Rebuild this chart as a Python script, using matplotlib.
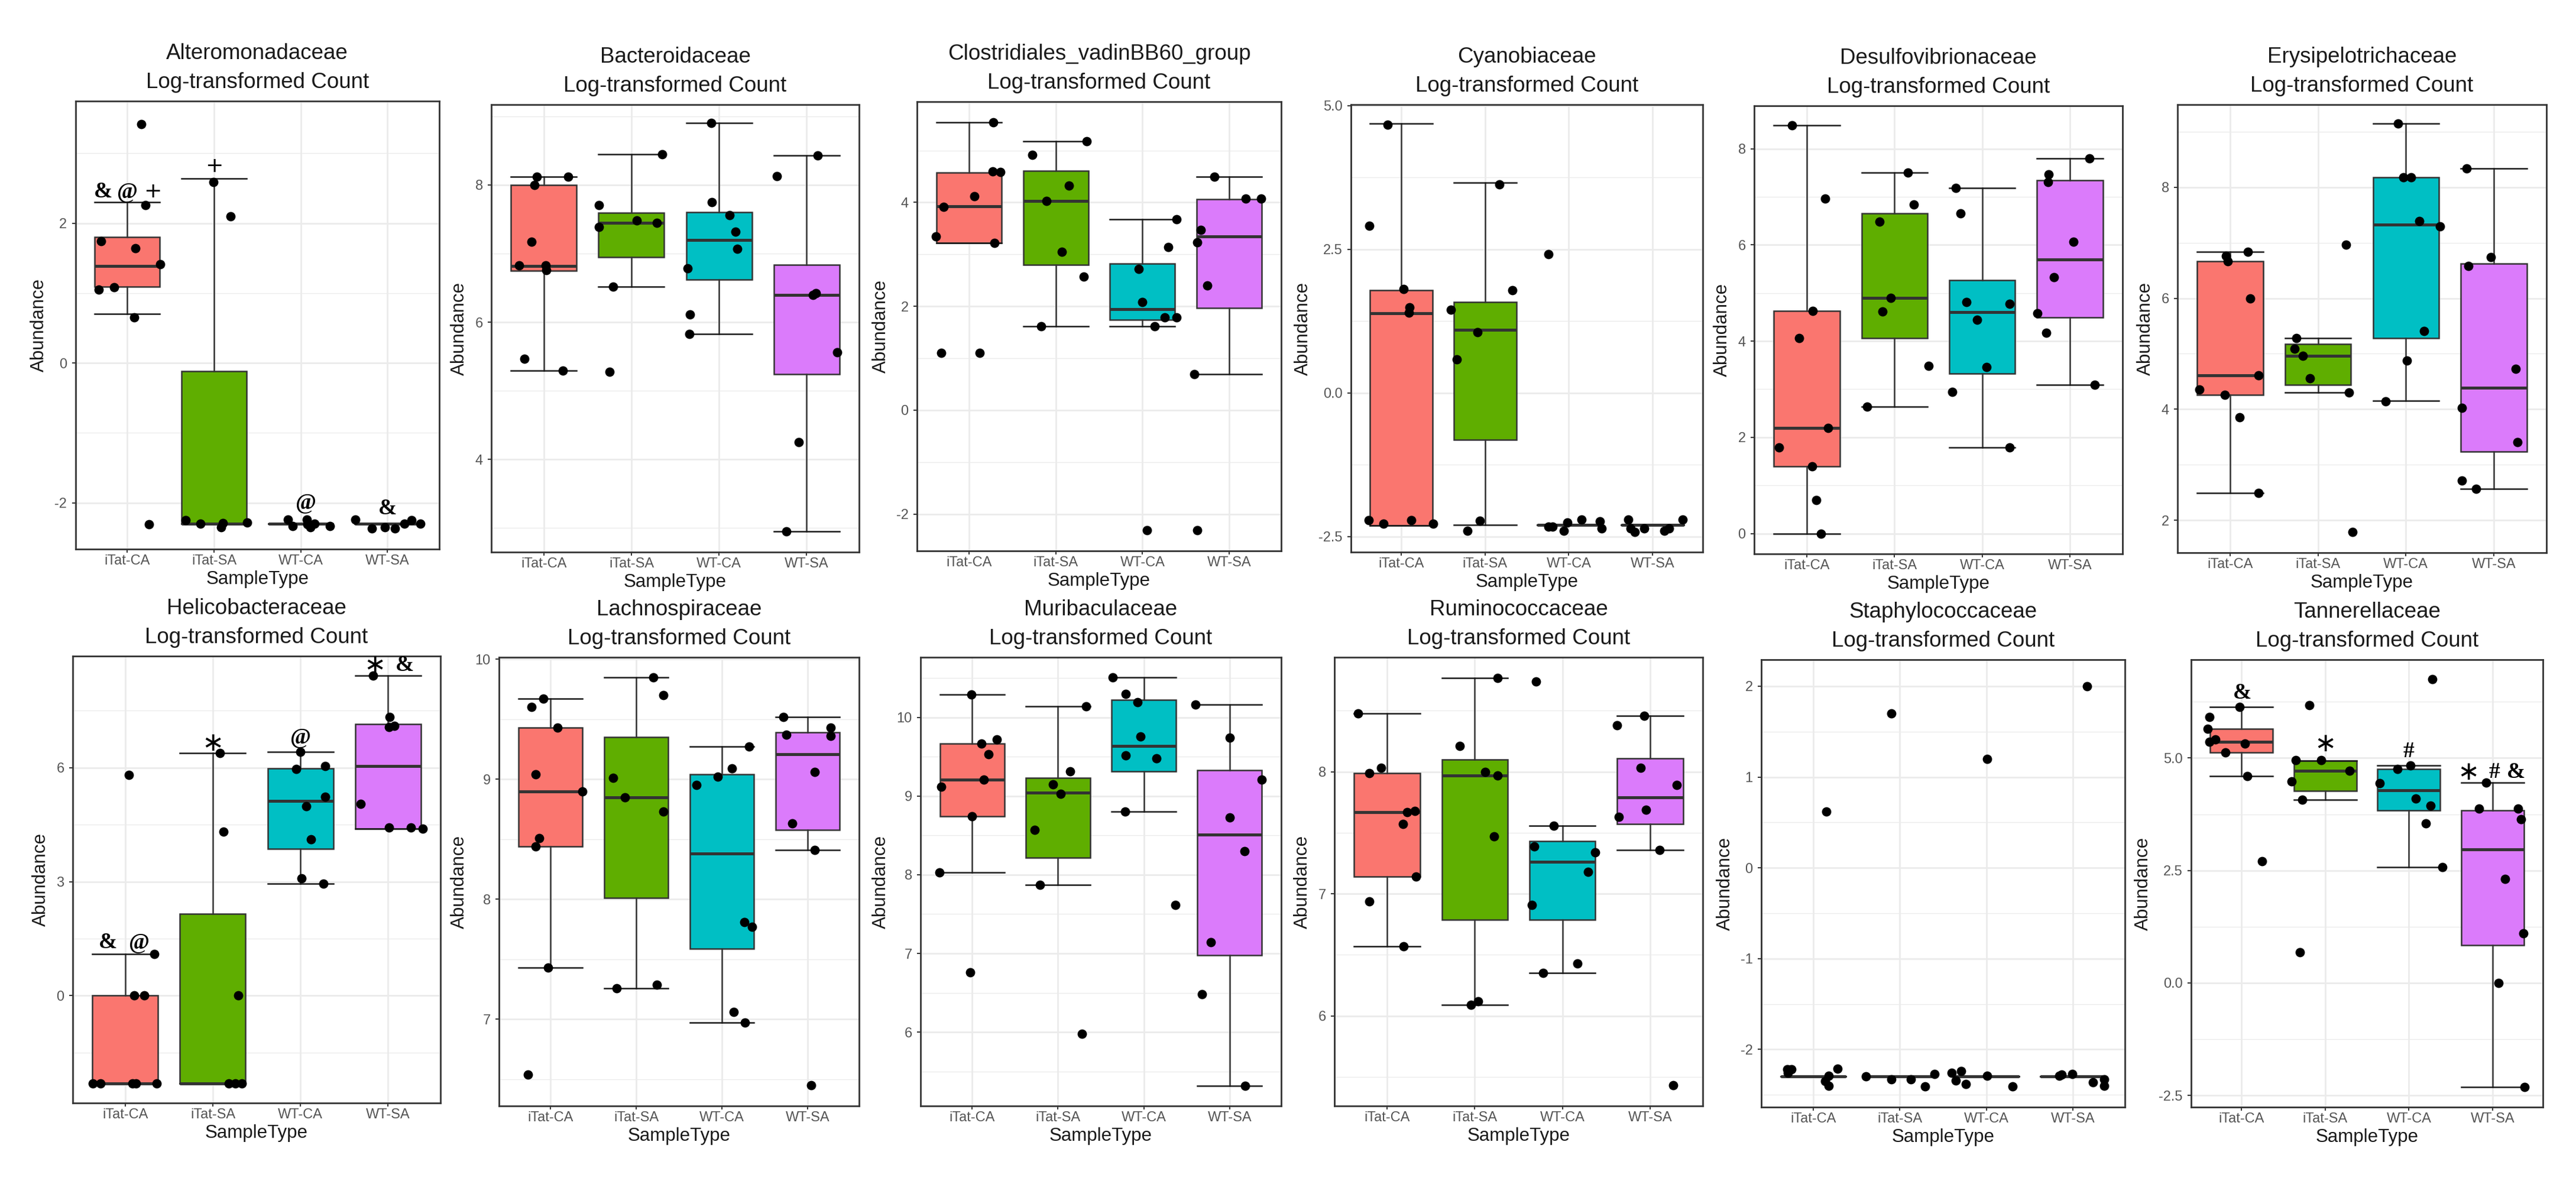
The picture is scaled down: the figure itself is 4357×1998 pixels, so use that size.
import matplotlib
matplotlib.use("Agg")
import matplotlib.pyplot as plt

plt.rcParams["font.family"] = ["Liberation Sans", "DejaVu Sans"]
plt.rcParams["axes.unicode_minus"] = False

# ---------------------------------------------------------------- data
groups = ["iTat-CA", "iTat-SA", "WT-CA", "WT-SA"]
fills = ["#FA766F", "#5FAE00", "#00BFC4", "#DB7BFB"]

# Alteromonadaceae
alteromonadaceae_q1 = [1.09, -2.30, -2.30, -2.30]
alteromonadaceae_med = [1.39, -2.30, -2.30, -2.30]
alteromonadaceae_q3 = [1.80, -0.12, -2.30, -2.30]
alteromonadaceae_lo = [0.70, -2.30, -2.30, -2.30]
alteromonadaceae_hi = [2.30, 2.64, -2.30, -2.30]
alteromonadaceae_vals = [[3.42, 2.26, 1.74, 1.64, 1.41, 1.05, 1.08, 0.65, -2.31],
                         [-2.25, -2.30, -2.35, -2.29, -2.28, 2.59, 2.10],
                         [-2.24, -2.33, -2.24, -2.31, -2.35, -2.30, -2.33],
                         [-2.24, -2.37, -2.35, -2.37, -2.30, -2.25, -2.30]]
alteromonadaceae_jitter = [[0.16, 0.21, -0.30, 0.09, 0.38, -0.33, -0.15, 0.08, 0.25],
                           [-0.33, -0.155, 0.08, 0.10, 0.38, -0.01, 0.19],
                           [-0.15, -0.09, 0.07, 0.08, 0.11, 0.16, 0.34],
                           [-0.37, -0.18, -0.03, 0.09, 0.20, 0.28, 0.38]]
alteromonadaceae_marks = [(0, "&", 2.45, -0.28), (0, "@", 2.45, 0.0), (0, "+", 2.45, 0.29),
                          (1, "+", 2.82, 0.0), (2, "@", -2.00, 0.06), (3, "&", -2.08, 0.0)]

# Bacteroidaceae
bacteroidaceae_q1 = [6.75, 6.95, 6.62, 5.24]
bacteroidaceae_med = [6.82, 7.45, 7.20, 6.40]
bacteroidaceae_q3 = [8.00, 7.59, 7.60, 6.84]
bacteroidaceae_lo = [5.29, 6.52, 5.83, 2.95]
bacteroidaceae_hi = [8.12, 8.45, 8.90, 8.43]
bacteroidaceae_vals = [[8.12, 8.12, 8.00, 7.17, 6.83, 6.83, 6.76, 5.47, 5.29],
                       [8.45, 7.71, 7.39, 7.48, 7.45, 6.52, 5.28],
                       [8.90, 7.75, 7.56, 7.32, 7.07, 6.78, 6.11, 5.83],
                       [8.43, 8.13, 6.40, 6.42, 5.56, 4.25, 2.95]]
bacteroidaceae_jitter = [[-0.08, 0.28, -0.11, -0.14, -0.28, 0.02, 0.03, -0.22, 0.22],
                         [0.35, -0.37, -0.37, 0.06, 0.29, -0.21, -0.25],
                         [-0.09, -0.08, 0.12, 0.19, 0.21, -0.36, -0.33, -0.34],
                         [0.13, -0.34, 0.07, 0.11, 0.35, -0.09, -0.23]]
bacteroidaceae_marks = []

# Clostridiales_vadinBB60_group
clostridiales_q1 = [3.22, 2.80, 1.74, 1.97]
clostridiales_med = [3.92, 4.03, 1.95, 3.35]
clostridiales_q3 = [4.57, 4.61, 2.82, 4.06]
clostridiales_lo = [3.22, 1.61, 1.61, 0.69]
clostridiales_hi = [5.54, 5.18, 3.67, 4.49]
clostridiales_vals = [[5.54, 4.60, 4.58, 4.12, 3.91, 3.34, 3.22, 1.10, 1.10],
                      [5.18, 4.91, 4.32, 4.03, 3.05, 2.57, 1.61],
                      [3.67, 3.14, 2.72, 2.08, 1.79, 1.79, 1.61, -2.31],
                      [4.49, 4.07, 4.07, 3.47, 3.23, 2.40, 0.69, -2.31]]
clostridiales_jitter = [[0.28, 0.27, 0.36, 0.06, -0.29, -0.38, 0.29, -0.32, 0.12],
                        [0.36, -0.27, 0.15, -0.11, 0.07, 0.32, -0.17],
                        [0.39, 0.30, -0.04, 0.00, 0.26, 0.39, 0.14, 0.05],
                        [-0.17, 0.19, 0.37, -0.33, -0.37, -0.25, -0.40, -0.37]]
clostridiales_marks = []

# Cyanobiaceae
cyanobiaceae_q1 = [-2.31, -0.81, -2.30, -2.30]
cyanobiaceae_med = [1.39, 1.10, -2.30, -2.30]
cyanobiaceae_q3 = [1.79, 1.58, -2.30, -2.30]
cyanobiaceae_lo = [-2.31, -2.30, -2.30, -2.30]
cyanobiaceae_hi = [4.69, 3.66, -2.30, -2.30]
cyanobiaceae_vals = [[4.67, 2.91, 1.81, 1.49, 1.40, -2.21, -2.28, -2.21, -2.28],
                     [3.63, 1.79, 1.45, 1.06, 0.58, -2.22, -2.40],
                     [2.42, -2.33, -2.33, -2.26, -2.40, -2.20, -2.24, -2.36],
                     [-2.20, -2.36, -2.42, -2.36, -2.40, -2.36, -2.20]]
cyanobiaceae_jitter = [[-0.16, -0.38, 0.03, 0.10, 0.09, -0.39, -0.21, 0.12, 0.38],
                       [0.17, 0.33, -0.41, -0.09, -0.34, -0.06, -0.21],
                       [-0.24, -0.24, -0.19, -0.02, -0.06, 0.15, 0.37, 0.39],
                       [-0.29, -0.26, -0.21, -0.10, 0.14, 0.20, 0.36]]
cyanobiaceae_marks = []

# Desulfovibrionaceae
desulfo_q1 = [1.39, 4.06, 3.33, 4.49]
desulfo_med = [2.20, 4.90, 4.60, 5.70]
desulfo_q3 = [4.63, 6.66, 5.27, 7.34]
desulfo_lo = [0.0, 2.64, 1.79, 3.09]
desulfo_hi = [8.49, 7.50, 7.19, 7.80]
desulfo_vals = [[8.49, 6.97, 4.63, 4.06, 2.20, 1.79, 1.39, 0.69, 0.0],
                [7.50, 6.84, 6.48, 4.90, 4.62, 3.49, 2.64],
                [7.19, 6.66, 4.81, 4.77, 4.45, 3.46, 2.94, 1.79],
                [7.80, 7.47, 7.31, 6.07, 5.33, 4.58, 4.17, 3.09]]
desulfo_jitter = [[-0.17, 0.21, 0.07, -0.09, 0.24, -0.32, 0.06, 0.11, 0.16],
                  [0.15, 0.22, -0.17, -0.04, -0.14, 0.39, -0.31],
                  [-0.30, -0.25, -0.18, 0.31, -0.06, 0.05, -0.34, 0.31],
                  [0.22, -0.24, -0.25, 0.04, -0.18, -0.37, -0.27, 0.28]]
desulfo_marks = []

# Erysipelotrichaceae
erysi_q1 = [4.26, 4.44, 5.28, 3.24]
erysi_med = [4.61, 4.96, 7.33, 4.39]
erysi_q3 = [6.67, 5.17, 8.18, 6.62]
erysi_lo = [2.49, 4.30, 4.15, 2.57]
erysi_hi = [6.84, 5.28, 9.15, 8.34]
erysi_vals = [[6.84, 6.76, 6.67, 6.00, 4.61, 4.36, 4.26, 3.85, 2.49],
              [6.96, 5.28, 5.09, 4.96, 4.56, 4.30, 1.79],
              [9.15, 8.18, 8.18, 7.39, 7.29, 5.41, 4.88, 4.14],
              [8.34, 6.74, 6.58, 4.73, 4.03, 3.41, 2.71, 2.57]]
erysi_jitter = [[0.20, -0.05, -0.03, 0.23, 0.32, -0.35, -0.06, 0.11, 0.32],
                [0.32, -0.25, -0.27, -0.17, -0.09, 0.35, 0.39],
                [-0.09, -0.03, 0.06, 0.15, 0.39, 0.21, 0.01, -0.23],
                [-0.31, -0.03, -0.29, 0.25, -0.36, 0.27, -0.36, -0.20]]
erysi_marks = []

# Helicobacteraceae
helico_q1 = [-2.31, -2.31, 3.87, 4.39]
helico_med = [-2.31, -2.31, 5.12, 6.05]
helico_q3 = [0.0, 2.15, 5.98, 7.15]
helico_lo = [-2.31, -2.31, 2.94, 4.39]
helico_hi = [1.10, 6.39, 6.42, 8.42]
helico_vals = [[5.81, 1.10, 0.0, 0.0, -2.31, -2.31, -2.31, -2.31, -2.31],
               [6.39, 4.32, 0.0, -2.31, -2.31, -2.31],
               [6.42, 5.97, 6.05, 5.23, 4.99, 4.11, 3.09, 2.94],
               [8.42, 7.34, 7.07, 7.10, 5.05, 4.43, 4.43, 4.39]]
helico_jitter = [[0.04, 0.33, 0.10, 0.22, -0.37, -0.28, 0.08, 0.12, 0.36],
                 [0.08, 0.12, 0.29, 0.18, 0.26, 0.33],
                 [0.0, -0.05, 0.28, 0.28, 0.07, 0.12, 0.01, 0.26],
                 [-0.17, 0.02, 0.01, 0.07, -0.31, 0.01, 0.26, 0.40]]
helico_marks = [(0, "&", 1.40, -0.20), (0, "@", 1.40, 0.16), (1, "*", 6.65, 0.0),
                (2, "@", 6.80, 0.0), (3, "*", 8.70, -0.15), (3, "&", 8.70, 0.19)]

# Lachnospiraceae
lachno_q1 = [8.44, 8.01, 7.59, 8.58]
lachno_med = [8.90, 8.85, 8.38, 9.21]
lachno_q3 = [9.43, 9.35, 9.04, 9.39]
lachno_lo = [7.43, 7.26, 6.97, 8.41]
lachno_hi = [9.67, 9.85, 9.27, 9.52]
lachno_vals = [[9.67, 9.60, 9.43, 9.04, 8.90, 8.51, 8.44, 7.43, 6.54],
               [9.85, 9.70, 9.01, 8.85, 8.73, 7.29, 7.26],
               [9.27, 9.09, 9.02, 8.95, 7.81, 7.77, 7.06, 6.97],
               [9.52, 9.43, 9.37, 9.36, 9.06, 8.63, 8.41, 6.45]]
lachno_jitter = [[-0.08, -0.22, 0.08, -0.17, 0.37, -0.13, -0.17, -0.03, -0.26],
                 [0.20, 0.32, -0.27, -0.13, 0.32, 0.24, -0.23],
                 [0.32, 0.12, -0.05, -0.30, 0.26, 0.35, 0.14, 0.27],
                 [-0.28, 0.27, -0.25, 0.27, 0.08, -0.18, 0.08, 0.04]]
lachno_marks = []

# Muribaculaceae
muri_q1 = [8.74, 8.22, 9.31, 6.98]
muri_med = [9.21, 9.04, 9.64, 8.51]
muri_q3 = [9.67, 9.23, 10.22, 9.33]
muri_lo = [8.03, 7.87, 8.80, 5.32]
muri_hi = [10.29, 10.14, 10.51, 10.16]
muri_vals = [[10.29, 9.67, 9.72, 9.53, 9.21, 9.12, 8.74, 8.03, 6.76],
             [10.14, 9.31, 9.15, 9.03, 8.57, 7.87, 5.98],
             [10.51, 10.30, 10.19, 9.76, 9.52, 9.48, 8.80, 7.62],
             [10.16, 9.74, 9.21, 8.73, 8.30, 7.14, 6.48, 5.32]]
muri_jitter = [[-0.01, 0.11, 0.29, 0.19, 0.14, -0.36, 0.0, -0.38, -0.02],
               [0.33, 0.14, -0.06, 0.03, -0.27, -0.21, 0.28],
               [-0.36, -0.21, -0.07, -0.04, -0.21, 0.15, -0.22, 0.37],
               [-0.40, 0.0, 0.37, 0.0, 0.17, -0.22, -0.32, 0.18]]
muri_marks = []

# Ruminococcaceae
rumino_q1 = [7.14, 6.79, 6.79, 7.57]
rumino_med = [7.67, 7.97, 7.26, 7.79]
rumino_q3 = [7.99, 8.10, 7.43, 8.11]
rumino_lo = [6.57, 6.09, 6.35, 7.36]
rumino_hi = [8.48, 8.77, 7.56, 8.46]
rumino_vals = [[8.48, 8.03, 7.99, 7.67, 7.68, 7.57, 7.14, 6.94, 6.57],
               [8.77, 8.21, 8.00, 7.97, 7.47, 6.12, 6.09],
               [8.74, 7.56, 7.39, 7.34, 7.18, 6.91, 6.43, 6.35],
               [8.46, 8.38, 8.03, 7.89, 7.69, 7.63, 7.36, 5.43]]
rumino_jitter = [[-0.33, -0.07, -0.20, 0.23, 0.32, 0.18, 0.33, -0.20, 0.19],
                 [0.26, -0.17, 0.12, 0.26, 0.22, 0.04, -0.04],
                 [-0.30, -0.10, -0.32, 0.37, 0.29, -0.35, 0.17, -0.22],
                 [-0.07, -0.38, -0.11, 0.30, -0.05, -0.36, 0.11, 0.26]]
rumino_marks = []

# Staphylococcaceae
staph_q1 = [-2.30, -2.30, -2.30, -2.30]
staph_med = [-2.30, -2.30, -2.30, -2.30]
staph_q3 = [-2.30, -2.30, -2.30, -2.30]
staph_lo = [-2.30, -2.30, -2.30, -2.30]
staph_hi = [-2.30, -2.30, -2.30, -2.30]
staph_vals = [[0.62, -2.22, -2.22, -2.26, -2.21, -2.29, -2.35, -2.40],
              [1.70, -2.30, -2.33, -2.33, -2.41, -2.27],
              [1.20, -2.26, -2.24, -2.34, -2.38, -2.29, -2.41],
              [2.00, -2.29, -2.28, -2.27, -2.36, -2.33, -2.40]]
staph_jitter = [[0.15, -0.30, -0.25, -0.29, 0.28, 0.18, 0.14, 0.18],
                [-0.10, -0.39, -0.10, 0.13, 0.29, 0.40],
                [0.01, -0.40, -0.29, -0.35, -0.24, 0.01, 0.30],
                [0.16, -0.16, -0.13, -0.01, 0.23, 0.36, 0.36]]
staph_marks = []

# Tannerellaceae
tanner_q1 = [5.13, 4.27, 3.83, 0.84]
tanner_med = [5.36, 4.72, 4.28, 2.97]
tanner_q3 = [5.65, 4.94, 4.76, 3.84]
tanner_lo = [4.60, 4.07, 2.57, -2.31]
tanner_hi = [6.14, 4.94, 4.84, 4.46]
tanner_vals = [[6.14, 5.91, 5.65, 5.36, 5.42, 5.32, 5.13, 4.60, 2.70],
               [6.18, 4.95, 4.95, 4.72, 4.48, 4.07, 0.68],
               [6.76, 4.84, 4.75, 4.44, 4.10, 3.94, 3.55, 2.57],
               [4.46, 3.87, 3.87, 3.64, 2.31, 1.10, 0.0, -2.31]]
tanner_jitter = [[-0.02, -0.38, -0.40, -0.38, -0.31, 0.04, -0.19, 0.07, 0.25],
                 [-0.19, -0.35, -0.05, 0.29, -0.40, -0.27, -0.30],
                 [0.28, 0.02, -0.14, -0.35, 0.08, 0.26, 0.20, 0.40],
                 [-0.08, -0.16, 0.30, 0.34, 0.15, 0.37, 0.07, 0.38]]
tanner_marks = [(0, "&", 6.44, 0.01), (1, "*", 5.31, 0.0), (2, "#", 5.15, 0.0),
                (3, "*", 4.69, -0.29), (3, "#", 4.69, 0.02), (3, "&", 4.69, 0.28)]

# ---------------------------------------------------------------- panels
# (title, stats..., axis pixel box (left, right, top, bottom), ylim, major ticks, minor ticks, decimals)
panels = [
    ("Alteromonadaceae", alteromonadaceae_q1, alteromonadaceae_med, alteromonadaceae_q3,
     alteromonadaceae_lo, alteromonadaceae_hi, alteromonadaceae_vals, alteromonadaceae_jitter,
     alteromonadaceae_marks, (127.5, 743, 171, 929), (-2.663, 3.747), [-2, 0, 2], [-1, 1, 3], 0),
    ("Bacteroidaceae", bacteroidaceae_q1, bacteroidaceae_med, bacteroidaceae_q3,
     bacteroidaceae_lo, bacteroidaceae_hi, bacteroidaceae_vals, bacteroidaceae_jitter,
     bacteroidaceae_marks, (831, 1453, 177, 934), (2.65, 9.17), [4, 6, 8], [3, 5, 7, 9], 0),
    ("Clostridiales_vadinBB60_group", clostridiales_q1, clostridiales_med, clostridiales_q3,
     clostridiales_lo, clostridiales_hi, clostridiales_vals, clostridiales_jitter,
     clostridiales_marks, (1551, 2167, 172, 932), (-2.71, 5.94), [-2, 0, 2, 4], [-1, 1, 3, 5], 0),
    ("Cyanobiaceae", cyanobiaceae_q1, cyanobiaceae_med, cyanobiaceae_q3,
     cyanobiaceae_lo, cyanobiaceae_hi, cyanobiaceae_vals, cyanobiaceae_jitter,
     cyanobiaceae_marks, (2285, 2880, 177, 934), (-2.77, 5.02), [-2.5, 0, 2.5, 5.0],
     [-1.25, 1.25, 3.75], 1),
    ("Desulfovibrionaceae", desulfo_q1, desulfo_med, desulfo_q3, desulfo_lo, desulfo_hi,
     desulfo_vals, desulfo_jitter, desulfo_marks, (2967, 3590, 179, 937), (-0.424, 8.894),
     [0, 2, 4, 6, 8], [1, 3, 5, 7], 0),
    ("Erysipelotrichaceae", erysi_q1, erysi_med, erysi_q3, erysi_lo, erysi_hi,
     erysi_vals, erysi_jitter, erysi_marks, (3683, 4307, 177, 935), (1.416, 9.488),
     [2, 4, 6, 8], [3, 5, 7, 9], 0),
    ("Helicobacteraceae", helico_q1, helico_med, helico_q3, helico_lo, helico_hi,
     helico_vals, helico_jitter, helico_marks, (123, 745, 1110, 1866), (-2.83, 8.94),
     [0, 3, 6], [-1.5, 1.5, 4.5, 7.5], 0),
    ("Lachnospiraceae", lachno_q1, lachno_med, lachno_q3, lachno_lo, lachno_hi,
     lachno_vals, lachno_jitter, lachno_marks, (844, 1453, 1112, 1871), (6.278, 10.016),
     [7, 8, 9, 10], [6.5, 7.5, 8.5, 9.5], 0),
    ("Muribaculaceae", muri_q1, muri_med, muri_q3, muri_lo, muri_hi,
     muri_vals, muri_jitter, muri_marks, (1557, 2167, 1112, 1871), (5.063, 10.763),
     [6, 7, 8, 9, 10], [5.5, 6.5, 7.5, 8.5, 9.5, 10.5], 0),
    ("Ruminococcaceae", rumino_q1, rumino_med, rumino_q3, rumino_lo, rumino_hi,
     rumino_vals, rumino_jitter, rumino_marks, (2257, 2880, 1112, 1871), (5.262, 8.938),
     [6, 7, 8], [5.5, 6.5, 7.5, 8.5], 0),
    ("Staphylococcaceae", staph_q1, staph_med, staph_q3, staph_lo, staph_hi,
     staph_vals, staph_jitter, staph_marks, (2979, 3594, 1116, 1873), (-2.636, 2.293),
     [-2, -1, 0, 1, 2], [-2.5, -1.5, -0.5, 0.5, 1.5], 0),
    ("Tannerellaceae", tanner_q1, tanner_med, tanner_q3, tanner_lo, tanner_hi,
     tanner_vals, tanner_jitter, tanner_marks, (3706, 4301, 1116, 1873), (-2.762, 7.188),
     [-2.5, 0, 2.5, 5.0], [-1.25, 1.25, 3.75, 6.25], 1),
]

# glyph styles for the significance marks
mark_style = {
    "&": dict(family=["Liberation Serif", "DejaVu Serif"], weight="bold", fontsize=27),
    "@": dict(family=["Liberation Serif", "DejaVu Serif"], weight="bold", fontsize=27),
    "#": dict(family=["Liberation Serif", "DejaVu Serif"], weight="bold", fontsize=27),
    "+": dict(family=["DejaVu Sans"], weight="normal", fontsize=26),
    "*": dict(family=["DejaVu Sans"], weight="normal", fontsize=32),
}
mark_glyph = {"*": "\u2217"}

W, H, DPI = 4357, 1998, 100
fig = plt.figure(figsize=(W / DPI, H / DPI), dpi=DPI)
fig.patch.set_facecolor("white")

PX = 72.0 / DPI  # points per pixel

for (title, q1, med, q3, lo, hi, vals, jit, marks, box, ylim, major, minor, dec) in panels:
    l, r, t, b = box
    ax = fig.add_axes([l / W, 1 - b / H, (r - l) / W, (b - t) / H])

    stats = [dict(med=med[i], q1=q1[i], q3=q3[i], whislo=lo[i], whishi=hi[i], fliers=[])
             for i in range(4)]
    bp = ax.bxp(stats, positions=range(4), widths=0.75, capwidths=0.75, patch_artist=True,
                showfliers=False, manage_ticks=False,
                boxprops=dict(edgecolor="#333333", linewidth=1.8),
                medianprops=dict(color="#333333", linewidth=3.6, solid_capstyle="butt"),
                whiskerprops=dict(color="#333333", linewidth=1.8),
                capprops=dict(color="#1A1A1A", linewidth=1.8))
    for patch, c in zip(bp["boxes"], fills):
        patch.set_facecolor(c)

    for i in range(4):
        ax.scatter([i + j for j in jit[i]], vals[i], s=130, color="black",
                   linewidths=0, zorder=5)

    for (g, txt, y, dx) in marks:
        ax.text(g + dx, y, mark_glyph.get(txt, txt), ha="center", va="center",
                zorder=6, **mark_style[txt])

    ax.set_xlim(-0.6, 3.6)
    ax.set_ylim(*ylim)
    ax.set_yticks(major)
    ax.set_yticks(minor, minor=True)
    fmt = "{:.1f}" if dec else "{:g}"
    ax.set_yticklabels([fmt.format(v) for v in major])
    ax.set_xticks(range(4))
    ax.set_xticklabels(groups)
    ax.grid(True, which="major", color="#EBEBEB", lw=2.0, zorder=0)
    ax.grid(True, which="minor", axis="y", color="#EBEBEB", lw=1.0, zorder=0)
    ax.set_axisbelow(True)
    ax.tick_params(which="minor", length=0)
    ax.tick_params(which="major", length=4.3, width=1.4, color="#333333",
                   labelsize=17, labelcolor="#555555")
    ax.tick_params(axis="x", pad=2.5)
    ax.tick_params(axis="y", pad=6)
    for s in ax.spines.values():
        s.set_color("#333333")
        s.set_linewidth(2.0)

    ax.annotate(title, xy=(0.5, 1), xycoords="axes fraction", xytext=(0, 71 * PX),
                textcoords="offset points", ha="center", va="baseline", fontsize=26.5,
                color="#1A1A1A")
    ax.annotate("Log-transformed Count", xy=(0.5, 1), xycoords="axes fraction",
                xytext=(0, 22 * PX), textcoords="offset points", ha="center",
                va="baseline", fontsize=26.5, color="#1A1A1A")
    ax.set_xlabel("SampleType", fontsize=22.5, labelpad=3, color="#1A1A1A")
    ax.set_ylabel("Abundance", fontsize=22.5, labelpad=8, color="#1A1A1A")

fig.savefig("out.png", dpi=DPI, facecolor="white")
